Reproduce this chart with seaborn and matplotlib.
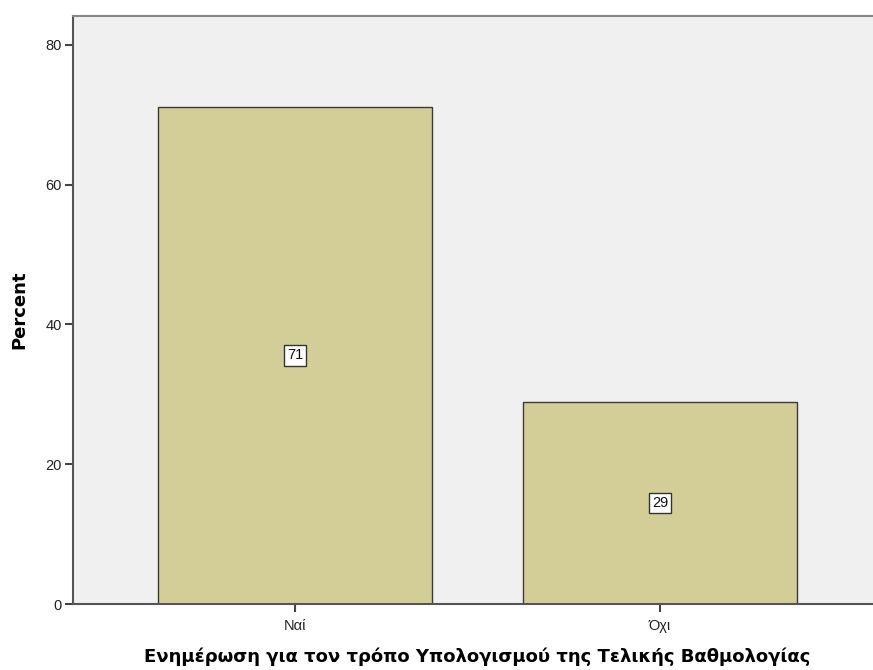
import matplotlib
matplotlib.use("Agg")
import matplotlib.pyplot as plt
import seaborn as sns
import pandas as pd

# data
categories = ['Ναί', 'Όχι']
percent = [71.1, 28.9]
bar_labels = ['71', '29']

sns.set_style('white')
plt.rcParams['font.family'] = ['Liberation Sans', 'DejaVu Sans']

df = pd.DataFrame({'answer': categories, 'percent': percent})

fig = plt.figure(figsize=(8.73, 6.70), dpi=100)
ax = fig.add_axes([0.0836, 0.0985, 0.9267, 0.8776])
ax.set_facecolor('#F0F0F0')

sns.barplot(data=df, x='answer', y='percent', color='#D3CE97', saturation=1,
            width=0.75, edgecolor='#3a3a3a', linewidth=1, ax=ax)

### value labels in the middle of the bars
for i, (v, lab) in enumerate(zip(percent, bar_labels)):
    ax.text(i, v / 2, lab, ha='center', va='center', fontsize=10.5, color='#111111',
            bbox=dict(boxstyle='square,pad=0.22', fc='white', ec='#333333', lw=1))

ax.set_xlim(-0.608, 1.608)
ax.set_ylim(0, 84.1)
ax.set_yticks([0, 20, 40, 60, 80])

ax.set_ylabel('Percent', fontsize=13, fontweight='bold', labelpad=12, color='black',
              family='DejaVu Sans')
ax.set_xlabel('Ενημέρωση για τον τρόπο Υπολογισμού της Τελικής Βαθμολογίας',
              fontsize=13, fontweight='bold', labelpad=10, color='black',
              family='DejaVu Sans')

for side in ['left', 'bottom']:
    ax.spines[side].set_color('#555555')
    ax.spines[side].set_linewidth(1.5)
ax.spines['top'].set_color('#888888')
ax.spines['top'].set_linewidth(1.5)
ax.spines['right'].set_visible(False)

ax.tick_params(axis='both', direction='out', length=6, width=1.5, color='#444444',
               labelsize=10.5, labelcolor='#222222', left=True, bottom=True, pad=2)
ax.tick_params(axis='x', pad=5)

fig.savefig('out.png', dpi=100)
